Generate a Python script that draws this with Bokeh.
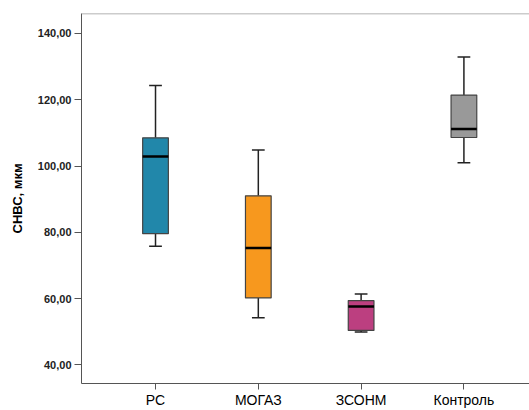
from bokeh.plotting import figure
from bokeh.models import ColumnDataSource, FixedTicker, CustomJSTickFormatter, Span, Range1d
from bokeh.embed import file_html
from bokeh.resources import INLINE

categories = ["РС", "МОГАЗ", "ЗСОНМ", "Контроль"]
whisker_low = [75.8, 54.2, 49.9, 101.0]
q1 = [79.6, 60.2, 50.4, 108.6]
median = [102.9, 75.3, 57.6, 111.2]
q3 = [108.5, 91.0, 59.4, 121.4]
whisker_high = [124.3, 104.8, 61.4, 132.9]
colors = ["#2187AA", "#F7981E", "#BC3F80", "#999999"]
y_ticks = [40, 60, 80, 100, 120, 140]

xs = [i + 1 for i in range(len(categories))]
box_w = 0.25
cap_w = 0.124
y_top = 146.0
y_bottom = 34.4

src = ColumnDataSource(dict(
    x=xs, lo=whisker_low, q1=q1, med=median, q3=q3, hi=whisker_high, color=colors,
    bl=[x - box_w / 2 for x in xs], br=[x + box_w / 2 for x in xs],
    cl=[x - cap_w / 2 for x in xs], cr=[x + cap_w / 2 for x in xs],
))

p = figure(width=529, height=410, output_backend="svg", toolbar_location=None,
           x_range=Range1d(0.28, 4.638), y_range=Range1d(y_bottom, y_top),
           min_border_left=81, min_border_right=0, min_border_top=13, min_border_bottom=25)
p.outline_line_color = None
p.xgrid.visible = False
p.ygrid.visible = False
p.background_fill_color = "white"
p.border_fill_color = "white"

# whiskers
p.segment(x0="x", y0="lo", x1="x", y1="q1", source=src, line_color="#222222", line_width=1.5)
p.segment(x0="x", y0="q3", x1="x", y1="hi", source=src, line_color="#222222", line_width=1.5)
p.segment(x0="cl", y0="lo", x1="cr", y1="lo", source=src, line_color="#222222", line_width=1.5)
p.segment(x0="cl", y0="hi", x1="cr", y1="hi", source=src, line_color="#222222", line_width=1.5)
# boxes
p.quad(left="bl", right="br", bottom="q1", top="q3", source=src, fill_color="color",
       line_color="#444444", line_width=1.2)
# medians
p.segment(x0="bl", y0="med", x1="br", y1="med", source=src, line_color="black", line_width=2.5)

p.add_layout(Span(location=y_top, dimension="width", line_color="#999999", line_width=1.5))

p.xaxis.ticker = FixedTicker(ticks=xs)
p.xaxis.major_label_overrides = {x: c for x, c in zip(xs, categories)}
p.xaxis.minor_tick_line_color = None
p.xaxis.major_tick_out = 6
p.xaxis.major_tick_in = 0
p.xaxis.major_label_standoff = 2
p.xaxis.major_label_text_font = "Liberation Sans"
p.xaxis.major_label_text_font_size = "14px"
p.xaxis.major_label_text_color = "black"
p.xaxis.axis_line_color = "#555555"
p.xaxis.major_tick_line_color = "#555555"

p.yaxis.ticker = FixedTicker(ticks=y_ticks)
p.yaxis.formatter = CustomJSTickFormatter(code="return tick.toFixed(2).replace('.', ',');")
p.yaxis.minor_tick_line_color = None
p.yaxis.major_tick_out = 7
p.yaxis.major_tick_in = 0
p.yaxis.major_label_standoff = 3
p.yaxis.major_label_text_font = "Liberation Sans"
p.yaxis.major_label_text_font_size = "11px"
p.yaxis.major_label_text_font_style = "bold"
p.yaxis.major_label_text_color = "#222222"
p.yaxis.axis_line_color = "#555555"
p.yaxis.major_tick_line_color = "#555555"
p.yaxis.axis_label = "СНВС, мкм"
p.yaxis.axis_label_text_font = "Liberation Sans"
p.yaxis.axis_label_text_font_size = "13px"
p.yaxis.axis_label_text_font_style = "bold"
p.yaxis.axis_label_text_color = "black"
p.yaxis.axis_label_standoff = 10

open("out.html", "w").write(file_html(p, INLINE))
